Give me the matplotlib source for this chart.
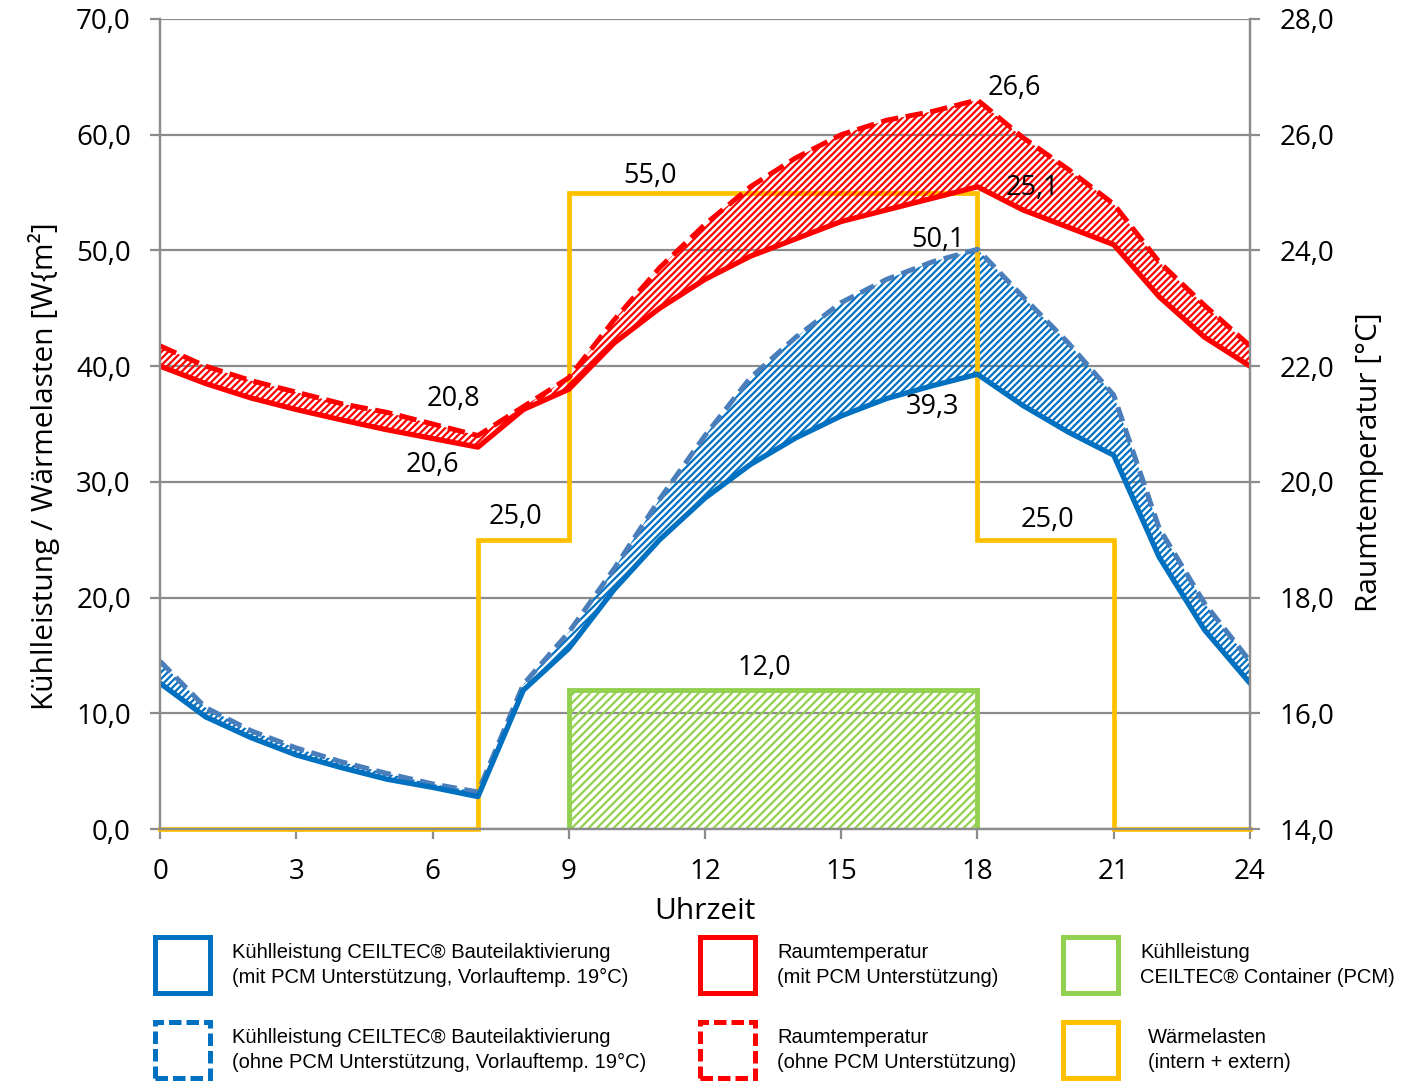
import matplotlib
matplotlib.use('Agg')
import matplotlib.pyplot as plt
from matplotlib.patches import Rectangle
from matplotlib.ticker import FuncFormatter, MultipleLocator

plt.rcParams['font.family'] = ['Open Sans', 'DejaVu Sans']
plt.rcParams['hatch.linewidth'] = 1.6

hours = list(range(25))

# Kühlleistung Bauteilaktivierung [W/m²]
cool_mit = [12.6, 9.7, 7.9, 6.4, 5.3, 4.3, 3.6, 2.8, 12.0, 15.6, 20.7, 25.0, 28.6,
            31.5, 33.8, 35.7, 37.2, 38.3, 39.3, 36.6, 34.3, 32.3, 23.5, 17.2, 12.6]
cool_ohne = [14.5, 10.5, 8.5, 7.0, 5.8, 4.8, 3.9, 3.2, 12.5, 17.0, 22.5, 28.5, 34.0,
             39.0, 42.5, 45.5, 47.5, 49.0, 50.1, 46.0, 42.0, 37.5, 26.0, 19.5, 14.5]

# Raumtemperatur [°C]
temp_mit = [22.0, 21.7, 21.45, 21.25, 21.07, 20.9, 20.75, 20.6, 21.25, 21.6, 22.4, 23.0, 23.5,
            23.9, 24.2, 24.5, 24.7, 24.9, 25.1, 24.7, 24.4, 24.1, 23.2, 22.5, 22.0]
temp_ohne = [22.35, 22.0, 21.75, 21.55, 21.35, 21.2, 21.0, 20.8, 21.3, 21.8, 22.8, 23.7, 24.45,
             25.1, 25.6, 26.0, 26.25, 26.4, 26.6, 25.95, 25.4, 24.8, 23.8, 23.05, 22.35]

# Wärmelasten (Stufen) und PCM-Container
load_x = [0, 7, 7, 9, 9, 18, 18, 21, 21, 24]
load_y = [0, 0, 25, 25, 55, 55, 25, 25, 0, 0]
pcm_x = [9, 18]
pcm_y = [12.0, 12.0]

c_blue = '#0070C0'
c_blue2 = '#4A7EBB'
c_red = '#FF0000'
c_yellow = '#FFC000'
c_green = '#92D050'
c_grid = '#8C8C8C'

fig = plt.figure(figsize=(14.14, 10.83), dpi=100)
ax = fig.add_axes([0.1132, 0.2345, 0.7708, 0.748])
ax2 = ax.twinx()

ax.set_xlim(0, 24)
ax.set_ylim(0, 70)
ax2.set_ylim(14, 28)

ax.yaxis.set_major_locator(MultipleLocator(10))
ax2.yaxis.set_major_locator(MultipleLocator(2))
ax.set_xticks([0, 3, 6, 9, 12, 15, 18, 21, 24])
fmt = FuncFormatter(lambda v, p: ('%.1f' % v).replace('.', ','))
ax.yaxis.set_major_formatter(fmt)
ax2.yaxis.set_major_formatter(fmt)

ax.grid(axis='y', color=c_grid, linewidth=1.6)
ax.set_axisbelow(True)
for a in (ax, ax2):
    a.spines['top'].set_visible(False)
    for s in ('left', 'right', 'bottom'):
        a.spines[s].set_color(c_grid)
        a.spines[s].set_linewidth(1.6)
    a.tick_params(colors=c_grid, labelcolor='black', labelsize=20, width=1.6, length=7, pad=14)
ax.tick_params(axis='x', pad=14)

# green PCM container
ax.fill_between(pcm_x, 0, pcm_y, facecolor='none', edgecolor=c_green, hatch='////', linewidth=0)
ax.plot([pcm_x[0], pcm_x[0], pcm_x[1], pcm_x[1]], [0, pcm_y[0], pcm_y[1], 0],
        color=c_green, lw=3.5, solid_joinstyle='miter')

# heat loads
ax.plot(load_x, load_y, color=c_yellow, lw=3.4, solid_joinstyle='miter', clip_on=False)

# cooling
ax.fill_between(hours, cool_mit, cool_ohne, facecolor='none', edgecolor=c_blue, hatch='/////', linewidth=0)
ax.plot(hours, cool_ohne, color=c_blue2, lw=3.6, ls=(0, (3, 1.5)))
ax.plot(hours, cool_mit, color=c_blue, lw=3.8)

# room temperature
ax2.fill_between(hours, temp_mit, temp_ohne, facecolor='none', edgecolor=c_red, hatch='/////', linewidth=0)
ax2.plot(hours, temp_ohne, color=c_red, lw=3.6, ls=(0, (3.5, 1.5)))
ax2.plot(hours, temp_mit, color=c_red, lw=3.8)

# data labels
lab = dict(fontsize=19.5, ha='center', va='center')
ax.text(10.79, 56.4, '55,0', **lab)
ax.text(7.82, 27.0, '25,0', **lab)
ax.text(19.55, 26.7, '25,0', **lab)
ax.text(13.3, 13.9, '12,0', **lab)
ax.text(17.13, 50.9, '50,1', **lab)
ax.text(17.0, 36.5, '39,3', **lab)
ax2.text(6.45, 21.43, '20,8', **lab)
ax2.text(5.99, 20.29, '20,6', **lab)
ax2.text(18.82, 26.81, '26,6', **lab)
ax2.text(19.2, 25.08, '25,1', **lab)

ax.set_xlabel('Uhrzeit', fontsize=21.5, labelpad=8)
ax.set_ylabel('Kühlleistung / Wärmelasten [W{m²]', fontsize=21.5)
ax2.set_ylabel('Raumtemperatur [°C]', fontsize=21.5)
ax.yaxis.set_label_coords(-0.092, 0.448)
ax2.yaxis.set_label_coords(1.096, 0.453)

# legend (custom boxes)
W, H = 1414.0, 1083.0
leg_cols = [155, 700, 1063]
leg_rows = [937, 1022]
leg_items = [
    (0, 0, c_blue, '-', 'Kühlleistung CEILTEC® Bauteilaktivierung\n(mit PCM Unterstützung, Vorlauftemp. 19°C)'),
    (0, 1, c_blue, '--', 'Kühlleistung CEILTEC® Bauteilaktivierung\n(ohne PCM Unterstützung, Vorlauftemp. 19°C)'),
    (1, 0, c_red, '-', 'Raumtemperatur\n(mit PCM Unterstützung)'),
    (1, 1, c_red, '--', 'Raumtemperatur\n(ohne PCM Unterstützung)'),
    (2, 0, c_green, '-', 'Kühlleistung\nCEILTEC® Container (PCM)'),
    (2, 1, c_yellow, '-', 'Wärmelasten\n(intern + extern)'),
]
for ci, ri, col, ls, txt in leg_items:
    x0 = leg_cols[ci]
    y0 = leg_rows[ri]
    r = Rectangle((x0 / W, 1 - (y0 + 56) / H), 55 / W, 56 / H, transform=fig.transFigure,
                  facecolor='white', edgecolor=col, lw=3.6,
                  linestyle=(0, (2.5, 1)) if ls == '--' else '-')
    fig.add_artist(r)
    tx = x0 + 77 if ci < 2 else x0 + 77 + (8 if ri == 1 else 0)
    fig.text(tx / W, 1 - (y0 + 28) / H, txt, fontsize=14.5, va='center', ha='left',
             linespacing=1.35, family=['Liberation Sans', 'DejaVu Sans'])

fig.savefig('out.png', dpi=100)
